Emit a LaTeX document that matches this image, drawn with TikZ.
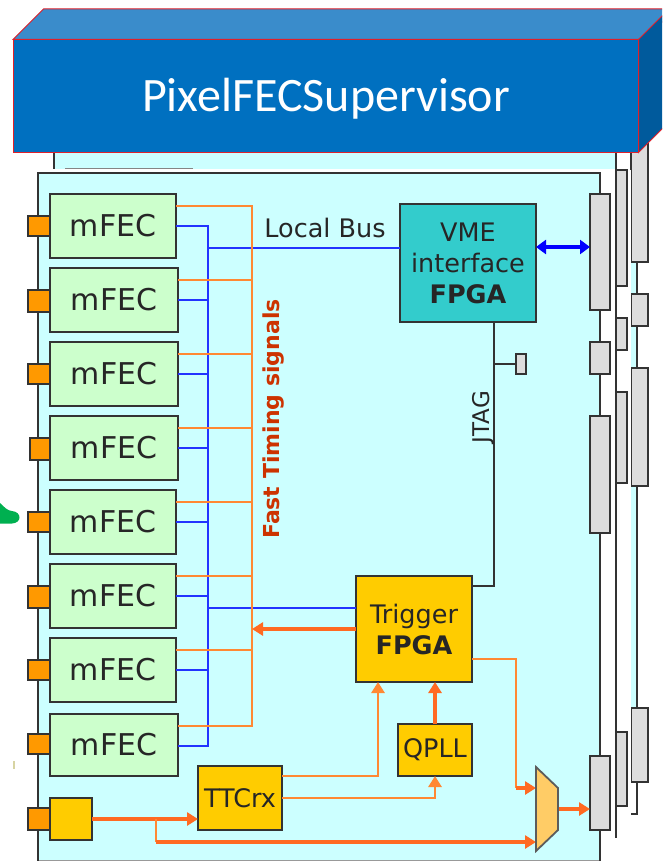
\documentclass[tikz,border=0pt]{standalone}
\usepackage{fontspec}
\setmainfont{DejaVu Sans}
\newfontfamily\titlefont{Carlito}
\usetikzlibrary{arrows.meta}
\definecolor{boardcyan}{HTML}{CCFFFF}
\definecolor{ink}{HTML}{333333}
\definecolor{conngray}{HTML}{DDDDDD}
\definecolor{mgreen}{HTML}{CCFFCC}
\definecolor{portorange}{HTML}{FF9900}
\definecolor{chipgold}{HTML}{FFCC00}
\definecolor{vmeteal}{HTML}{33CCCC}
\definecolor{lineorange}{HTML}{FF8833}
\definecolor{arroworange}{HTML}{FF6A22}
\definecolor{busblue}{HTML}{2233FF}
\definecolor{muxfill}{HTML}{FFCC66}
\definecolor{signalred}{HTML}{CC3300}
\definecolor{blockfront}{HTML}{0070C0}
\definecolor{blocktop}{HTML}{3A8CCB}
\definecolor{blockside}{HTML}{005A9C}
\definecolor{blockedge}{HTML}{E0202A}
\definecolor{blobgreen}{HTML}{00B050}
\tikzset{
  pnode/.style={draw=ink,line width=2.8pt,inner sep=0pt,outer sep=0pt,text=black!85,align=center,font=\fontsize{25.5}{31}\selectfont},
  mfec/.style={pnode,fill=mgreen,font=\fontsize{30}{31}\selectfont},
  port/.style={pnode,fill=portorange},
  conn/.style={pnode,fill=conngray},
  gold/.style={pnode,fill=chipgold},
  teal/.style={pnode,fill=vmeteal},
  oline/.style={draw=lineorange,line width=2.8pt},
  othick/.style={draw=arroworange,line width=3.4pt},
  otip/.style={-{Triangle[length=11pt,width=13pt]}},
  bline/.style={draw=busblue,line width=2.8pt},
  spine/.style={draw=ink,line width=2.8pt},
  lab/.style={text=black!85,inner sep=0pt,font=\fontsize{25.5}{31}\selectfont},
}
\newcommand\pbox[7]{%
  \pgfmathsetmacro\cx{(#3+#5)/2}\pgfmathsetmacro\cy{(#4+#6)/2}%
  \pgfmathsetmacro\bw{#5-#3}\pgfmathsetmacro\bh{#6-#4}%
  \node[#1,minimum width=\bw pt,minimum height=\bh pt] (#2) at (\cx,\cy) {#7};}
\begin{document}
\begin{tikzpicture}[x=1pt,y=-1pt]
\clip (0,0) rectangle (662,861);
\fill[white] (0,0) rectangle (662,861);
% third layer
\fill[boardcyan] (631,152) rectangle (637,781);
\draw[spine] (637,152) -- (637,814) -- (631,814);
\pbox{conn}{c3a}{631}{140}{648}{262}{}
\pbox{conn}{c3b}{631}{294}{648}{326}{}
\pbox{conn}{c3c}{631}{368}{648}{486}{}
\pbox{conn}{c3d}{631}{708}{648}{782}{}
\fill[white] (600,170) rectangle (631,861);
% second layer
\fill[boardcyan] (54,152) rectangle (616,169);
\draw[ink!60,line width=1pt] (65,168.5) -- (193,168.5);
\draw[spine] (54,152) -- (54,169);
\draw[spine] (616,152) -- (616,838);
\pbox{conn}{c2a}{616}{170}{627}{286}{}
\pbox{conn}{c2b}{616}{318}{627}{350}{}
\pbox{conn}{c2c}{616}{392}{627}{483}{}
\pbox{conn}{c2d}{616}{732}{627}{806}{}
% main board
\fill[boardcyan] (38,173) rectangle (600,861);
\draw[ink!50,line width=1pt] (38,860.5) -- (600,860.5);
\draw[spine] (38,861) -- (38,173) -- (600,173) -- (600,861);
\pbox{conn}{c1a}{590}{194}{610}{310}{}
\pbox{conn}{c1b}{590}{342}{610}{374}{}
\pbox{conn}{c1c}{590}{416}{610}{533}{}
\pbox{conn}{c1d}{590}{756}{610}{830}{}
% ports
\pbox{port}{p1}{28}{216}{50}{236}{}
\pbox{port}{p2}{28}{290}{50}{312}{}
\pbox{port}{p3}{28}{364}{50}{384}{}
\pbox{port}{p4}{30}{438}{50}{460}{}
\pbox{port}{p5}{28}{512}{50}{532}{}
\pbox{port}{p6}{28}{586}{50}{608}{}
\pbox{port}{p7}{28}{660}{50}{680}{}
\pbox{port}{p8}{28}{734}{50}{754}{}
\pbox{port}{p9}{28}{808}{50}{830}{}
% mFEC
\pbox{mfec}{m1}{50}{194}{176}{258}{mFEC}
\pbox{mfec}{m2}{50}{268}{178}{332}{mFEC}
\pbox{mfec}{m3}{50}{342}{178}{406}{mFEC}
\pbox{mfec}{m4}{50}{416}{178}{480}{mFEC}
\pbox{mfec}{m5}{50}{490}{176}{554}{mFEC}
\pbox{mfec}{m6}{50}{564}{176}{628}{mFEC}
\pbox{mfec}{m7}{50}{638}{176}{702}{mFEC}
\pbox{mfec}{m8}{50}{714}{178}{776}{mFEC}
% chips
\pbox{teal}{vme}{400}{204}{536}{322}{VME\\interface\\\textbf{FPGA}}
\pbox{gold}{trig}{356}{576}{472}{682}{Trigger\\\textbf{FPGA}}
\pbox{gold}{qpll}{398}{724}{472}{776}{QPLL}
\pbox{gold}{ttc}{198}{766}{282}{830}{TTCrx}
\pbox{gold}{rx}{50}{798}{92}{840}{}
\pbox{conn}{jt}{516}{354}{526}{374}{}
% bus ends
\coordinate (ob) at (252,724);
\coordinate (bb) at (208,744);
% blue local bus
\foreach \i in {1,...,8} \draw[bline] ([yshift=-32pt]m\i.north east) -| (bb);
\draw[bline] ([yshift=15pt]vme.west) -| (bb);
\draw[bline] ([yshift=21pt]trig.west) -| (bb);
% orange fast timing bus
\foreach \i in {1,...,8} \draw[oline] ([yshift=-12pt]m\i.north east) -| (ob);
\draw[othick,otip] (trig.west) -- (trig.west -| ob);
\draw[draw=blue,line width=3.5pt,{Triangle[length=10pt,width=14pt]}-{Triangle[length=10pt,width=14pt]}] ([yshift=16pt]vme.east) -- ([yshift=16pt]vme.east -| c1a.west);
% JTAG
\coordinate (jbend) at (494,586);
\draw[spine] (vme.south -| jbend) -- (jbend) -- ([yshift=43pt]trig.east);
\draw[spine] (jt.west) -- (jt.west -| jbend);
% bottom signals
\coordinate (muxa) at (536,788);
\coordinate (muxb) at (536,842);
\coordinate (muxo) at (558,809);
\coordinate (branch) at (156,819);
\draw[othick,otip] (rx.east) -- (rx.east -| ttc.west);
\draw[oline] (branch) -- (branch |- muxb);
\draw[othick,otip] (branch |- muxb) -- (muxb);
\draw[oline,otip] ([yshift=22pt]ttc.east) -| (trig.south -| 378,0);
\draw[oline,otip] (ttc.east) -| (qpll.south);
\draw[othick,otip] (qpll.north) -- (trig.south -| qpll.north);
\draw[oline] ([yshift=-30pt]trig.east) -- (516,659) -- (516,788);
\draw[othick,otip] (516,788) -- (muxa);
\draw[othick,otip] (muxo) -- (muxo -| c1d.west);
% multiplexer
\draw[draw=ink!80,line width=1.8pt,fill=muxfill] (536,767) -- (558,788) -- (558,830) -- (536,851) -- cycle;
% labels
\node[lab,anchor=base] (lb) at (325,237) {Local Bus};
\node[lab,rotate=90,font=\bfseries\fontsize{22}{24}\selectfont,text=signalred] (fts) at (274,419) {Fast Timing signals};
\node[lab,rotate=90,font=\fontsize{23}{24}\selectfont] (jl) at (483,417) {JTAG};
% marks at the left margin
\fill[blobgreen] (0,503) .. controls (4,507) and (8,511) .. (12,511) .. controls (22,512) and (22,523) .. (12,523.5) -- (0,523.5) -- cycle;
\fill[yellow!40!gray!60] (13,761) rectangle (14.5,769);
% top block
\draw[blockedge,line width=1pt,fill=blocktop] (13,39.5) -- (43.5,9) -- (680,9) -- (638.5,39.5) -- cycle;
\draw[blockedge,line width=1pt,fill=blockside] (638.5,39.5) -- (669,9) -- (669,122) -- (638.5,152.5) -- cycle;
\node[draw=blockedge,line width=1pt,fill=blockfront,minimum width=625.5pt,minimum height=113pt,inner sep=0pt] (top) at (325.75,96) {};
\node[anchor=base,inner sep=0pt,text=white,font=\titlefont\fontsize{48}{50}\selectfont] (title) at (326,112) {PixelFECSupervisor};
\end{tikzpicture}
\end{document}
